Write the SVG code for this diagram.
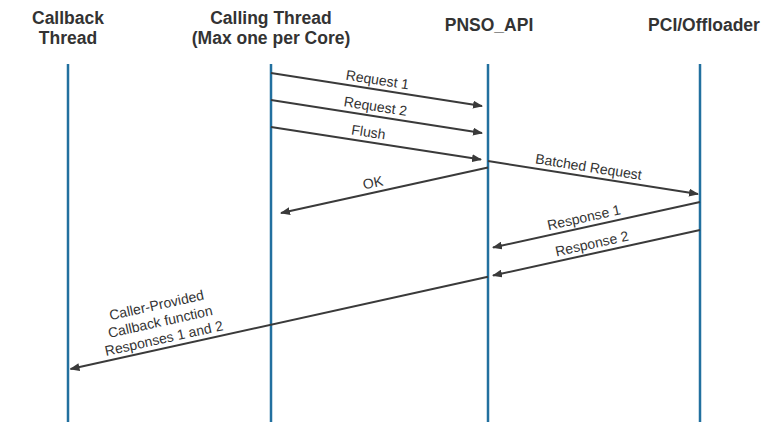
<svg xmlns="http://www.w3.org/2000/svg" width="780" height="422" viewBox="0 0 780 422">
<style>
.hdr{font-family:"Liberation Sans",Arial,sans-serif;font-weight:bold;font-size:17.5px;fill:#333;text-anchor:middle}
.life{stroke:#22709f;stroke-width:2.5;fill:none}
.msg{stroke:#3a3a3a;stroke-width:2;fill:none;marker-end:url(#ah)}
.lbl{font-family:"Liberation Sans",Arial,sans-serif;font-size:14px;fill:#333;text-anchor:middle}
</style>
<defs>
<marker id="ah" markerUnits="userSpaceOnUse" viewBox="0 0 10 8" refX="9" refY="4" markerWidth="10" markerHeight="8" orient="auto">
<path d="M0,0 L10,4 L0,8 Z" fill="#3a3a3a"/>
</marker>
</defs>
<rect width="780" height="422" fill="#fff"/>
<g id="callback-thread">
<text class="hdr" x="68" y="24">Callback</text>
<text class="hdr" x="68" y="44">Thread</text>
<line class="life" x1="68" y1="64" x2="68" y2="422"/>
</g>
<g id="calling-thread">
<text class="hdr" x="271" y="24">Calling Thread</text>
<text class="hdr" x="271" y="44">(Max one per Core)</text>
<line class="life" x1="271" y1="64" x2="271" y2="422"/>
</g>
<g id="pnso-api">
<text class="hdr" x="489" y="31">PNSO_API</text>
<line class="life" x1="488" y1="64" x2="488" y2="422"/>
</g>
<g id="pci-offloader">
<text class="hdr" x="704" y="31">PCI/Offloader</text>
<line class="life" x1="700" y1="64" x2="700" y2="422"/>
</g>
<g id="connectors">
<line class="msg" x1="271" y1="73" x2="482" y2="106"/>
<text class="lbl" transform="translate(376,89.5) rotate(8.9)" y="-5">Request 1</text>
<line class="msg" x1="271" y1="100" x2="482" y2="133"/>
<text class="lbl" transform="translate(374,116) rotate(8.9)" y="-5">Request 2</text>
<line class="msg" x1="271" y1="127" x2="481" y2="159.5"/>
<text class="lbl" transform="translate(367,141.8) rotate(8.9)" y="-5">Flush</text>
<line class="msg" x1="488" y1="161" x2="698" y2="194"/>
<text class="lbl" transform="translate(587,176.6) rotate(8.9)" y="-5">Batched Request</text>
<line class="msg" x1="488" y1="167.5" x2="281" y2="213"/>
<text class="lbl" transform="translate(375,192.3) rotate(-12.4)" y="-5">OK</text>
<line class="msg" x1="700" y1="202" x2="493" y2="247.5"/>
<text class="lbl" transform="translate(586,227.1) rotate(-12.4)" y="-5">Response 1</text>
<line class="msg" x1="700" y1="230" x2="493" y2="275.5"/>
<text class="lbl" transform="translate(594,253.3) rotate(-12.4)" y="-5">Response 2</text>
<line class="msg" x1="488" y1="276.7" x2="70.5" y2="369"/>
<text class="lbl" transform="translate(166,347.9) rotate(-12.46)"><tspan x="0" y="-39">Caller-Provided</tspan><tspan x="0" y="-22">Callback function</tspan><tspan x="0" y="-5">Responses 1 and 2</tspan></text>
</g>
</svg>
